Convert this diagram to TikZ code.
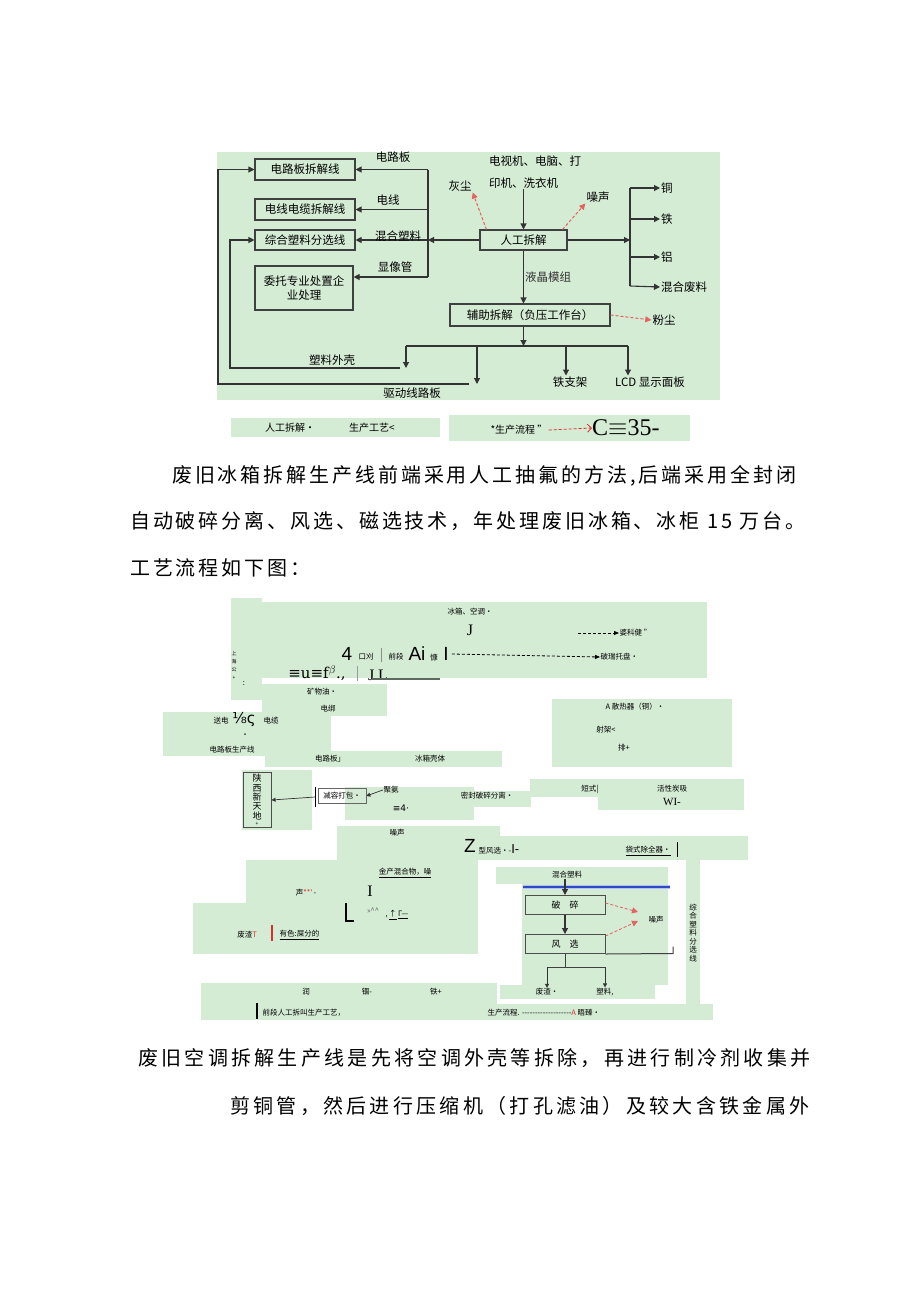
\documentclass[tikz,border=0pt]{standalone}
\usepackage{fontspec}
\newfontfamily\cjk{Noto Sans CJK SC}
\newfontfamily\cjkbody[LetterSpace=14.5]{Noto Sans CJK SC}
\newfontfamily\cjkbodyb[LetterSpace=16.5]{Noto Sans CJK SC}
\newfontfamily\symsans{DejaVu Sans}
\newfontfamily\symserif{DejaVu Serif}
\newfontfamily\arl{Liberation Sans}
\newfontfamily\tms{Liberation Serif}
\usetikzlibrary{arrows.meta}
\definecolor{pgreen}{RGB}{212,235,212}
\definecolor{pred}{RGB}{222,45,45}
\definecolor{pblue}{RGB}{45,75,200}

\tikzset{
  patch/.style={fill=pgreen, draw=none},
  pbox/.style={draw=black!75, line width=1.1pt, inner sep=2pt, font=\cjk\fontsize{11.5}{14}\selectfont},
  lbl/.style={inner sep=1pt, font=\cjk\fontsize{11.5}{14}\selectfont},
  captxt/.style={inner sep=1pt, font=\cjk\fontsize{10}{12}\selectfont},
  tiny/.style={inner sep=0.5pt, font=\cjk\fontsize{7.5}{9}\selectfont},
  bigs/.style={inner sep=0pt, font=\arl\fontsize{19}{20}\selectfont},
  bigserif/.style={inner sep=0pt, font=\tms\fontsize{16}{18}\selectfont},
  body/.style={anchor=west, inner sep=0pt, font=\cjkbody\fontsize{20}{24}\selectfont},
  bodyb/.style={anchor=west, inner sep=0pt, font=\cjkbodyb\fontsize{20}{24}\selectfont},
  flow/.style={line width=1.1pt, black!80, -{Triangle[length=6pt,width=6pt]}},
  thinflow/.style={line width=0.7pt, black!80, -{Triangle[length=4pt,width=4pt]}},
  emis/.style={line width=1pt, pred!75, dash pattern=on 3pt off 2pt, -{Triangle[length=6pt,width=6pt]}},
  dashflow/.style={line width=0.8pt, black, dash pattern=on 3pt off 2pt, -{Triangle[length=5pt,width=4pt]}},
  smbox/.style={draw=black!70, line width=1pt, inner sep=1pt, font=\cjk\fontsize{9}{11}\selectfont},
}

\begin{document}
\begin{tikzpicture}[x=1pt,y=-1pt]
\useasboundingbox[fill=white] (0,0) rectangle (920,1301);

% manual dismantling of TV / computer
\fill[patch] (217,152) rectangle (720,400);
\node[pbox, minimum width=100pt, minimum height=21pt] (pcbline) at (305,169.5) {电路板拆解线};
\node[pbox, minimum width=100pt, minimum height=21pt] (wireline) at (305,209.5) {电线电缆拆解线};
\node[pbox, minimum width=100pt, minimum height=20pt] (plasline) at (305,240) {综合塑料分选线};
\node[pbox, minimum width=98pt, minimum height=44pt, align=center] (entrust) at (304,288) {委托专业处置企\\业处理};
\node[pbox, minimum width=87pt, minimum height=20pt] (manual) at (523.5,240) {人工拆解};
\node[pbox, minimum width=160pt, minimum height=22pt] (aux) at (530,315) {辅助拆解（负压工作台）};
\node[lbl, align=left, font=\cjk\fontsize{11.5}{22}\selectfont] (tv) at (535,172) {电视机、电脑、打\\印机、洗衣机};

\coordinate (bl1) at (428,169.5);
\coordinate (bl2) at (428,209.5);
\coordinate (bl3) at (428,240);
\coordinate (bl4) at (428,277);
\draw[line width=1.1pt, black!80] (bl1) -- (bl4);
\draw[flow] (bl1) -- (pcbline.east);
\draw[flow] (bl2) -- (wireline.east);
\draw[flow] (bl3) -- (plasline.east);
\draw[flow] (bl4) -- (bl4 -| entrust.east);
\draw[flow] (manual.west) -- (bl3);
\node[lbl] (lpcb) at (393,157) {电路板};
\node[lbl] (lwire) at (388,200) {电线};
\node[lbl] (lmix) at (398,236) {混合塑料};
\node[lbl] (lcrt) at (395,267) {显像管};

\coordinate (rb0) at (630,240);
\coordinate (rb1) at (630,188);
\coordinate (rb2) at (630,219);
\coordinate (rb3) at (630,257);
\coordinate (rb4) at (630,286);
\draw[line width=1.1pt, black!80] (rb1) -- (rb4);
\draw[flow] (manual.east) -- (rb0);
\node[lbl, anchor=west] (cu) at (660,188) {铜};
\node[lbl, anchor=west] (fe) at (660,219) {铁};
\node[lbl, anchor=west] (al) at (660,257) {铝};
\node[lbl, anchor=west] (mixw) at (660,287) {混合废料};
\draw[flow] (rb1) -- (cu.west);
\draw[flow] (rb2) -- (fe.west);
\draw[flow] (rb3) -- (al.west);
\draw[flow] (rb4) -- (mixw.west);

\node[lbl] (dust) at (460,186) {灰尘};
\node[lbl] (noise) at (598,197) {噪声};
\draw[emis] ([xshift=7pt]manual.north west) -- (dust.south east);
\draw[emis] ([xshift=-5pt]manual.north east) -- (noise.south west);
\draw[flow] (manual.north |- tv.south) -- (manual.north);
\draw[flow] (manual.south) -- node[lbl, right] (llcd) {液晶模组} (manual.south |- aux.north);
\node[lbl] (powder) at (664,320) {粉尘};
\draw[emis] (aux.east) -- (powder.west);

\coordinate (bb0) at (523.5,346);
\coordinate (bb1) at (406,346);
\coordinate (bb2) at (477,346);
\coordinate (bb3) at (566,346);
\coordinate (bb4) at (628,346);
\coordinate (shell) at (406,368);
\coordinate (drive) at (477,384);
\coordinate (lx1) at (230,368);
\coordinate (lx2) at (218,384);
\draw[flow] (aux.south -| bb0) -- (bb0);
\draw[line width=1.1pt, black!80] (bb1) -- (bb4);
\draw[flow] (bb1) -- (shell);
\draw[flow] (bb2) -- (drive);
\node[lbl] (ironst) at (570,382) {铁支架};
\node[lbl] (lcdp) at (650,382) {LCD 显示面板};
\draw[flow] (bb3) -- (bb3 |- ironst.north);
\draw[flow] (bb4) -- (bb4 |- lcdp.north);
\draw[flow] ([xshift=-6pt]shell) -- (lx1) |- (plasline.west);
\draw[flow] ([xshift=-8pt]drive) -- (lx2) |- (pcbline.west);
\node[lbl] (lshell) at (332,360) {塑料外壳};
\node[lbl] (ldrive) at (412,393) {驱动线路板};

% caption row
\fill[patch] (231,418) rectangle (440,437);
\fill[patch] (449,415) rectangle (690,441);
\node[captxt] (capa) at (290,428) {人工拆解·};
\node[captxt] (capb) at (372,428) {生产工艺<};
\node[captxt] (capc) at (519,430) {*生产流程 ”};
\node[anchor=west, inner sep=0pt, font=\tms\fontsize{24}{26}\selectfont] (capd) at (592,428) {C$\equiv$35-};
\draw[line width=0.8pt, pred, dash pattern=on 3pt off 2pt, -{Straight Barb[length=4pt]}] (capc.east) -- (capd.west);

% text
\node[body] (p1) at (172,476) {废旧冰箱拆解生产线前端采用人工抽氟的方法,后端采用全封闭};
\node[body] (p2) at (130,521) {自动破碎分离、风选、磁选技术，年处理废旧冰箱、冰柜 15 万台。};
\node[body] (p3) at (130,568) {工艺流程如下图：};
\node[bodyb] (p4) at (138,1058) {废旧空调拆解生产线是先将空调外壳等拆除，再进行制冷剂收集并};
\node[bodyb] (p5) at (230,1106) {剪铜管，然后进行压缩机（打孔滤油）及较大含铁金属外};

% refrigerator line, scanned patches
\fill[patch] (231,598) rectangle (262,700);
\fill[patch] (262,602) rectangle (707,678);
\fill[patch] (262,684) rectangle (387,716);
\fill[patch] (163,712) rectangle (331,756);
\fill[patch] (265,751) rectangle (502,767);
\fill[patch] (552,699) rectangle (732,767);
\fill[patch] (242,770) rectangle (312,830);
\fill[patch] (345,787) rectangle (474,820);
\fill[patch] (405,791) rectangle (531,807);
\fill[patch] (530,779) rectangle (744,797);
\fill[patch] (598,797) rectangle (744,810);
\fill[patch] (337,826) rectangle (500,836);
\fill[patch] (337,836) rectangle (748,860);
\fill[patch] (246,860) rectangle (478,903);
\fill[patch] (193,903) rectangle (478,954);
\fill[patch] (496,867) rectangle (668,884);
\fill[patch] (522,884) rectangle (668,985);
\fill[patch] (500,985) rectangle (655,999);
\fill[patch] (686,860) rectangle (700,1005);
\fill[patch] (201,983) rectangle (497,1020);
\fill[patch] (497,1004) rectangle (713,1020);

\node[tiny] (fridge) at (470,612) {冰箱、空调·};
\node[bigserif] (jmark) at (470,630) {J};
\coordinate (d1) at (578,633);
\node[tiny, anchor=west] (oil) at (619,633) {婆科健 ”};
\draw[dashflow] (d1) -- (oil.west);
\node[bigs] (n4) at (347,654) {4};
\node[tiny] (nkx) at (366,657) {口刈};
\draw[black!45, line width=1pt] (381,648) -- (381,662);
\node[tiny] (nfront) at (396,657) {前段};
\node[bigs] (nai) at (417,654) {Ai};
\node[tiny] (nkang) at (434,658) {慷};
\node[bigs] (ni) at (446,654) {I};
\node[tiny, anchor=west] (glass) at (600,657) {破瑞托盘·};
\draw[dashflow] ([xshift=3pt]ni.east) -- (glass.west);
\node[tiny, align=center, font=\cjk\fontsize{5}{8}\selectfont] (vgar) at (234,665) {上\\海\\公\\+};
\node[tiny] (colon) at (244,684) {:};
\node[inner sep=0pt, font=\symserif\fontsize{15}{16}\selectfont] (gar1) at (317,673) {≡u≡f$^{\beta}$.,};
\draw[black!40, line width=1pt] (357,666) -- (357,681);
\node[bigserif] (gar2) at (378,675) {J L};
\draw[black!55!pgreen, line width=1.6pt] (372,679) -- (440,679);

\node[tiny] (mo) at (322,692) {矿物油•};
\node[tiny] (dbd) at (328,709) {电绑};
\node[tiny] (sd) at (221,721) {送电};
\node[inner sep=0pt, font=\symsans\fontsize{15}{16}\selectfont] (frac) at (244,719) {⅛ς};
\node[tiny] (cable) at (271,721) {电缆};
\node[tiny] (dot1) at (245,736) {·};
\node[tiny] (pcbp) at (232,750) {电路板生产线};
\node[tiny] (pcb2) at (330,759) {电路板」};
\node[tiny] (shellf) at (430,759) {冰箱壳体};
\node[tiny] (rad) at (635,707) {A 散热器（铜）•};
\node[tiny] (frame) at (606,730) {射架<};
\node[tiny] (pai) at (624,748) {排+};

\node[smbox, align=center, minimum width=28pt, minimum height=55pt, font=\cjk\fontsize{9}{9.4}\selectfont] (shx) at (257,800) {陕\\西\\新\\天\\地\\[-3pt]{\fontsize{5}{5}\selectfont +}};
\coordinate (pk) at (315,797);
\draw[thinflow] (pk) -- (shx.east);
\draw[line width=1pt] (315,787) -- (315,807);
\node[draw=black!60, line width=0.6pt, tiny, minimum width=48pt, minimum height=15pt] (pack) at (342,796) {减容打包·};
\node[tiny] (pu) at (391,790) {聚氨};
\draw[thinflow] (pu.west) -- (pack.east);
\node[tiny] (seal) at (487,796) {密封破碎分离•};
\node[inner sep=0pt, font=\symsans\fontsize{9}{10}\selectfont] (eq4) at (401,808) {≡4·};
\node[tiny] (short) at (590,789) {短式|};
\node[tiny] (carbon) at (672,789) {活性炭吸};
\node[inner sep=0pt, font=\tms\fontsize{11}{12}\selectfont] (wl) at (672,802) {WI-};
\node[tiny] (noise2) at (397,833) {噪声};
\node[bigs] (zz) at (470,846) {Z};
\node[tiny, anchor=west] (zwind) at (478,849) {型风选·-{\arl\fontsize{13}{14}\selectfont I-}};
\node[tiny] (bag) at (648,851) {\underline{袋式除全器·}};
\draw[line width=1pt] (677,842) -- (677,857);

\node[tiny] (mixm) at (405,873) {\underline{金产混合物，噪}};
\node[tiny] (sheng) at (306,893) {声\textcolor{pred}{**'}\,-};
\node[bigserif] (ibar) at (370,891) {I};
\draw[line width=2pt] (346,903) -- (346,921) -- (354,921);
\node[tiny, text=black!60] (hat) at (373,911) {»\^{}\^{}};
\node[tiny] (gam) at (397,915) {,\,\underline{↑}\ \underline{Γ—}};
\node[tiny] (slag) at (247,935) {废渣\textcolor{pred}{T}};
\draw[pred, line width=2pt] (272,925) -- (272,941);
\node[tiny, anchor=west] (colour) at (279,935) {\underline{有色:屎分的}};

\node[tiny] (mixp) at (567,875) {混合塑料};
\draw[pblue!35, line width=4pt] (523,887) -- (670,887);
\draw[pblue, line width=1.6pt] (523,887) -- (670,887);
\node[smbox, minimum width=80pt, minimum height=19pt] (crush) at (565,905) {破\quad 碎};
\node[smbox, minimum width=80pt, minimum height=19pt] (wsel) at (565,944) {风\quad 选};
\draw[flow] (mixp.south -| crush.north) -- (crush.north);
\draw[flow] (crush.south) -- (wsel.north);
\coordinate (ws1) at (673,953.5);
\draw[line width=1pt, black!75] (wsel.south east) -- (ws1) -- ++(0,-7);
\coordinate (wb) at (565,967);
\node[tiny] (slag2) at (547,992) {废渣•};
\node[tiny] (plast2) at (605,992) {塑料,};
\draw[line width=1pt, black!75] (wsel.south) -- (wb);
\draw[line width=1pt, black!75] (slag2 |- wb) -- (plast2 |- wb);
\draw[thinflow] (slag2 |- wb) -- (slag2.north);
\draw[thinflow] (plast2 |- wb) -- (plast2.north);
\node[tiny] (noise3) at (656,920) {噪声};
\coordinate (nz1) at (638,912);
\coordinate (nz2) at (638,921);
\draw[emis, line width=0.8pt] ([yshift=2pt]crush.east) -- (nz1);
\draw[emis, line width=0.8pt] ([yshift=8pt]wsel.east) -- (nz2);
\node[tiny, align=center, font=\cjk\fontsize{7.5}{8.5}\selectfont] (vsort) at (693,933) {综\\合\\塑\\料\\分\\选\\线};

\node[tiny] (cu2) at (306,992) {润};
\node[tiny] (ge) at (367,992) {锢-};
\node[tiny] (fe2) at (436,992) {铁+};
\draw[line width=2pt] (257,1003) -- (257,1019);
\node[tiny, anchor=west] (front2) at (262,1013) {前段人工拆叫生产工艺，};
\node[tiny, anchor=west] (flow2) at (487,1013) {生产流程. -------------------\textcolor{pred}{A} 晤臻·};
\end{tikzpicture}
\end{document}
